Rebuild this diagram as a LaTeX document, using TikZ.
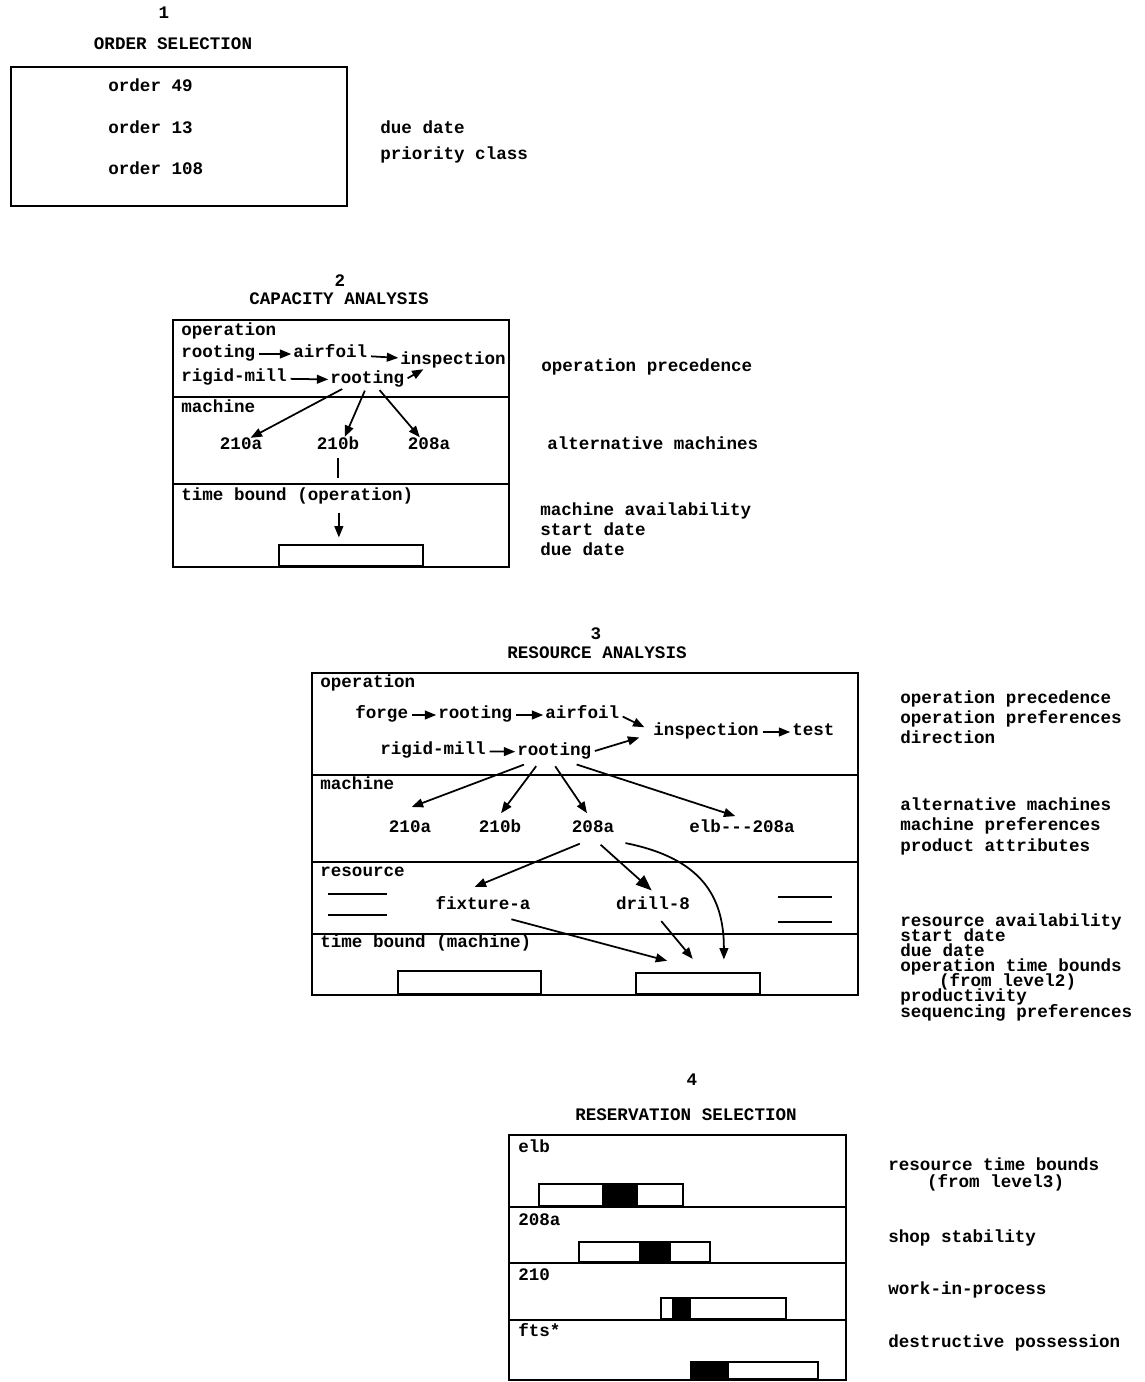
\documentclass[tikz,border=0pt]{standalone}
\usepackage{fontspec}
\setmonofont{Liberation Mono}
\usetikzlibrary{arrows.meta,calc}
\newcommand\plotfont{\ttfamily\bfseries\fontsize{10}{12}\selectfont}

\begin{document}
\begin{tikzpicture}[x=0.02cm,y=-0.02cm,>={Triangle[length=6.5pt,width=5pt]},
    lbl/.style={anchor=west,inner sep=0pt,text height=6pt,text depth=2pt,font=\plotfont},
    mid/.style={lbl,anchor=center},
    note/.style={anchor=base west,inner sep=0pt,align=left,font={\plotfont\fontsize{10}{#1}\selectfont\lineskiplimit=-20pt}},
    note/.default=12,
    rim/.style={line width=1.1pt},
    slot/.style={draw,line width=1pt,fill=white,anchor=south west,inner sep=0pt},
    arr/.style={->,line width=1pt,shorten <=2pt,shorten >=1pt},
    bigarr/.style={arr,-{Triangle[length=9pt,width=7pt]}}]
    \fill[white] (0,0) rectangle (1144,1382);
    \useasboundingbox (0,0) rectangle (1144,1382);

    % 1 order selection
    \node[mid] (n1) at (164,15) {1};
    \node[mid] (t1) at (173,46) {ORDER SELECTION};
    \draw[rim] (11,67) rectangle (347,206);
    \node[lbl] (o49) at (108,88) {order 49};
    \node[lbl] (o13) at (108,130) {order 13};
    \node[lbl] (o108) at (108,171) {order 108};
    \node[note=15.3] (crit1) at (380,160) {due date\\priority class};

    % 2 capacity analysis
    \node[mid] (n2) at (340,283) {2};
    \node[mid] (t2) at (339,301) {CAPACITY ANALYSIS};
    \draw[rim] (173,320) rectangle (509,567);
    \draw[rim] (173,397) -- (509,397);
    \draw[rim] (173,484) -- (509,484);
    \node[lbl] (op2) at (181,332) {operation};
    \node[lbl] (ro2a) at (181,354) {rooting};
    \node[lbl] (af2) at (293,354) {airfoil};
    \node[lbl] (in2) at (400,361) {inspection};
    \node[lbl] (rm2) at (181,378) {rigid-mill};
    \node[lbl] (ro2b) at (330,380) {rooting};
    \node[lbl] (mc2) at (181,409) {machine};
    \node[mid] (m2a) at (241,446) {210a};
    \node[mid] (m2b) at (338,446) {210b};
    \node[mid] (m2c) at (429,446) {208a};
    \node[lbl] (tb2) at (181,497) {time bound (operation)};
    \node[slot,minimum width=2.88cm,minimum height=0.42cm] (b2) at (278,567) {};
    \draw[arr] (ro2a) -- (af2);
    \draw[arr] (af2) -- (in2);
    \draw[arr] (rm2) -- (ro2b);
    \draw[arr] (ro2b.east) -- ($(in2.south west)+(25,0)$);
    \draw[arr] ($(ro2b.south)+(-22,0)$) -- ($(m2a.north)+(8,0)$);
    \draw[arr] ($(ro2b.south)+(-1,0)$) -- ($(m2b.north)+(6,0)$);
    \draw[arr] ($(ro2b.south)+(10,0)$) -- ($(m2c.north)+(-8,0)$);
    \draw[rim] ($(m2b.south)+(0,5)$) -- ++(0,20);
    \draw[arr] ($(b2.north)+(-12,-35)$) -- ($(b2.north)+(-12,-5)$);
    \node[note] (crit2a) at (541,371) {operation precedence};
    \node[note] (crit2b) at (547,449) {alternative machines};
    \node[note=11.3] (crit2c) at (540,555) {machine availability\\start date\\due date};

    % 3 resource analysis
    \node[mid] (n3) at (596,636) {3};
    \node[mid] (t3) at (597,655) {RESOURCE ANALYSIS};
    \draw[rim] (312,673) rectangle (858,995);
    \draw[rim] (312,775) -- (858,775);
    \draw[rim] (312,862) -- (858,862);
    \draw[rim] (312,934) -- (858,934);
    \node[lbl] (op3) at (320,684) {operation};
    \node[lbl] (fg3) at (355,715) {forge};
    \node[lbl] (ro3a) at (438,715) {rooting};
    \node[lbl] (af3) at (545,715) {airfoil};
    \node[lbl] (in3) at (653,732) {inspection};
    \node[lbl] (ts3) at (792,732) {test};
    \node[lbl] (rm3) at (380,751) {rigid-mill};
    \node[lbl] (ro3b) at (517,752) {rooting};
    \node[lbl] (mc3) at (320,786) {machine};
    \node[mid] (m3a) at (410,829) {210a};
    \node[mid] (m3b) at (500,829) {210b};
    \node[mid] (m3c) at (593,829) {208a};
    \node[mid] (m3d) at (742,829) {elb---208a};
    \node[lbl] (rs3) at (320,873) {resource};
    \node[mid] (fx3) at (483,906) {fixture-a};
    \node[mid] (dr3) at (653,906) {drill-8};
    \node[lbl] (tb3) at (320,944) {time bound (machine)};
    \node[slot,minimum width=2.86cm,minimum height=0.46cm] (b3a) at (397,995) {};
    \node[slot,minimum width=2.48cm,minimum height=0.42cm] (b3b) at (635,995) {};
    \draw[rim] (328,894) -- (387,894) (328,915) -- (387,915);
    \draw[rim] (778,897) -- (832,897) (778,922) -- (832,922);
    \draw[arr] (fg3) -- (ro3a);
    \draw[arr] (ro3a) -- (af3);
    \draw[arr] (af3.east) -- ($(in3.west)+(-7,-4)$);
    \draw[arr] (in3) -- (ts3);
    \draw[arr] (rm3) -- (ro3b);
    \draw[arr] (ro3b.east) -- ($(in3.west)+(-12,5)$);
    \draw[arr] ($(ro3b.south)+(-27,4)$) -- ($(m3a.north)+(0,-14)$);
    \draw[arr] ($(ro3b.south)+(-16,4)$) -- ($(m3b.north)+(0,-7)$);
    \draw[arr] ($(ro3b.south)+(-1,4)$) -- ($(m3c.north)+(-5,-7)$);
    \draw[arr] ($(ro3b.south)+(19,4)$) -- ($(m3d.north)+(-5,-5)$);
    \draw[arr] ($(m3c.south)+(-10,6)$) -- ($(fx3.north)+(-10,-11)$);
    \draw[bigarr] ($(m3c.south)+(5,6)$) -- ($(dr3.north)+(0,-7)$);
    \draw[arr] ($(m3c.south)+(29,6)$) .. controls (700,858) and (724,895) .. ($(b3b.north)+(26,-11)$);
    \draw[arr] ($(fx3.south)+(25,5)$) -- ($(b3b.north)+(-29,-11)$);
    \draw[arr] ($(dr3.south)+(6,5)$) -- ($(b3b.north)+(-4,-12)$);
    \node[note=11.3] (crit3a) at (900,743) {operation precedence\\operation preferences\\direction};
    \node[note=11.5] (crit3b) at (900,851) {alternative machines\\machine preferences\\product attributes};
    \node[note=8.6] (crit3c) at (900,1017) {resource availability\\start date\\due date\\operation time bounds\\\hspace*{22pt}(from level2)\\productivity\\sequencing preferences};

    % 4 reservation selection
    \node[mid] (n4) at (692,1082) {4};
    \node[mid] (t4) at (686,1117) {RESERVATION SELECTION};
    \draw[rim] (509,1135) rectangle (846,1380);
    \draw[rim] (509,1207) -- (846,1207);
    \draw[rim] (509,1263) -- (846,1263);
    \draw[rim] (509,1320) -- (846,1320);
    \node[lbl] (elb) at (518,1149) {elb};
    \node[lbl] (m208) at (518,1222) {208a};
    \node[lbl] (m210) at (518,1277) {210};
    \node[lbl] (fts) at (518,1333) {fts*};
    \node[slot,minimum width=2.88cm,minimum height=0.44cm] (r1) at (538,1207) {};
    \fill (602,1185) rectangle (638,1207);
    \node[slot,minimum width=2.62cm,minimum height=0.40cm] (r2) at (578,1263) {};
    \fill (639,1243) rectangle (671,1263);
    \node[slot,minimum width=2.50cm,minimum height=0.42cm] (r3) at (660,1320) {};
    \fill (672,1299) rectangle (691,1320);
    \node[slot,minimum width=2.54cm,minimum height=0.34cm] (r4) at (690,1380) {};
    \fill (690,1363) rectangle (729,1380);
    \node[note=9.2] (crit4a) at (888,1187) {resource time bounds\\\hspace*{22pt}(from level3)};
    \node[note] (crit4b) at (888,1242) {shop stability};
    \node[note] (crit4c) at (888,1294) {work-in-process};
    \node[note] (crit4d) at (888,1347) {destructive possession};
\end{tikzpicture}
\end{document}
